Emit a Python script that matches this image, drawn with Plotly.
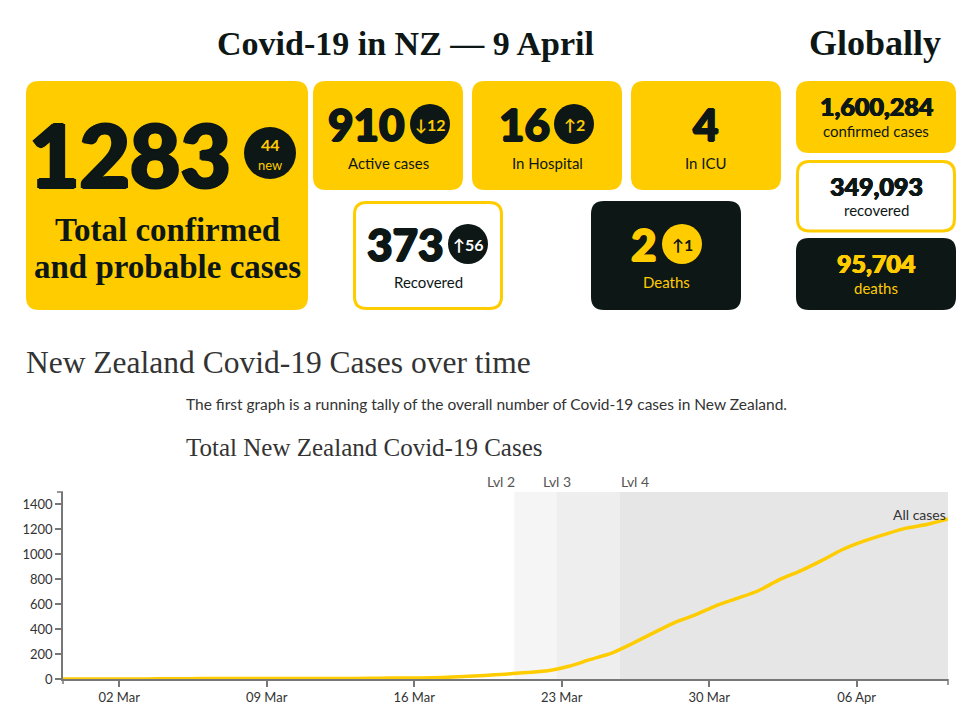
import plotly.graph_objects as go
import pandas as pd

# --- DATA ---
# cumulative confirmed + probable cases, one value per day from 28 Feb to 10 Apr
total_cases = [1, 1, 1, 1, 1, 2, 3, 4, 5, 5, 5, 5, 5, 5, 5,
               6, 8, 8, 12, 20, 28, 39, 52, 66, 102, 155, 205, 283, 368,
               451, 514, 589, 647, 708, 797, 868, 950, 1039, 1106, 1160,
               1210, 1239, 1283]
dates = pd.date_range("2020-02-28 08:00", periods=len(total_cases), freq="D")

level_labels = ["Lvl 2", "Lvl 3", "Lvl 4"]
level_starts = ["2020-03-20 18:00", "2020-03-22 18:00", "2020-03-25 18:00"]
level_fills = ["#f5f5f5", "#eeeeee", "#e6e6e6"]

total_now = 1283
new_today = 44
card_labels = ["Active cases", "In Hospital", "In ICU", "Recovered", "Deaths"]
card_values = [910, 16, 4, 373, 2]
card_changes = ["↓12", "↑2", "", "↑56", "↑1"]

global_values = ["1,600,284", "349,093", "95,704"]
global_labels = ["confirmed cases", "recovered", "deaths"]

# --- STYLE ---
YELLOW = "#FFCC00"
DARK = "#0d1716"
GREY_TXT = "#333333"
SLAB = "Liberation Serif, serif"
SERIF = "Liberation Serif, serif"
NUM = "Lato, Roboto, sans-serif"
SANS = "Lato, Open Sans, sans-serif"

# plot area in page pixels
PL, PR, PT, PB = 63, 948, 492, 679
W, H = 979, 711


def P(x, y):
    return (x - PL) / (PR - PL), (PB - y) / (PB - PT)


def rrect(x0, y0, x1, y1, r, fill, line=None, lw=0):
    pts = [("M", x0 + r, y0), ("L", x1 - r, y0), ("Q", x1, y0, x1, y0 + r),
           ("L", x1, y1 - r), ("Q", x1, y1, x1 - r, y1), ("L", x0 + r, y1),
           ("Q", x0, y1, x0, y1 - r), ("L", x0, y0 + r), ("Q", x0, y0, x0 + r, y0)]
    path = ""
    for p in pts:
        coords = []
        for i in range(1, len(p), 2):
            a, b = P(p[i], p[i + 1])
            coords.append(f"{a:.5f},{b:.5f}")
        path += p[0] + " " + " ".join(coords) + " "
    path += "Z"
    return dict(type="path", xref="paper", yref="paper", path=path,
                fillcolor=fill, line=dict(color=line or fill, width=lw),
                layer="above")


def circle(cx, cy, r, fill):
    x0, y0 = P(cx - r, cy + r)
    x1, y1 = P(cx + r, cy - r)
    return dict(type="circle", xref="paper", yref="paper", x0=x0, y0=y0,
                x1=x1, y1=y1, fillcolor=fill, line=dict(width=0), layer="above")


def seg(xa, ya, xb, yb, color="#777777", w=1.5):
    x0, y0 = P(xa, ya)
    x1, y1 = P(xb, yb)
    return dict(type="line", xref="paper", yref="paper", x0=x0, y0=y0,
                x1=x1, y1=y1, line=dict(color=color, width=w))


annotations = []


def txt(x, y, s, size, color, family=SANS, weight="normal", xanchor="center",
        heavy=0):
    a, b = P(x, y)
    font = dict(family=family, size=size, color=color, weight=weight)
    if heavy:
        # fake an extra-black weight by smearing the glyph a little
        h = heavy
        font["shadow"] = (f"{h}px 0 0 {color}, -{h}px 0 0 {color}, "
                          f"0 {h * 0.6}px 0 {color}, 0 -{h * 0.6}px 0 {color}")
    annotations.append(dict(x=a, y=b, xref="paper", yref="paper", text=s,
                            showarrow=False, xanchor=xanchor, yanchor="middle",
                            font=font))


fig = go.Figure()

# --- LINE CHART ---
fig.add_trace(go.Scatter(
    x=dates, y=total_cases, mode="lines",
    line=dict(color=YELLOW, width=3.5, shape="spline", smoothing=0.6),
    hoverinfo="x+y", showlegend=False))

shapes = []
ends = level_starts[1:] + [dates[-1]]
for s, e, c in zip(level_starts, ends, level_fills):
    shapes.append(dict(type="rect", xref="x", yref="paper", x0=s, x1=e,
                       y0=0, y1=1, fillcolor=c, line=dict(width=0), layer="below"))

# outer axis ticks (d3 style)
shapes += [seg(57, PT, PL, PT), seg(PL, PB, PL, PB + 5), seg(PR, PB, PR, PB + 6)]

# --- CARDS ---
shapes.append(rrect(26, 81, 308, 310, 13, YELLOW))
shapes.append(rrect(313, 81, 463, 190, 13, YELLOW))
shapes.append(rrect(472, 81, 622, 190, 13, YELLOW))
shapes.append(rrect(631, 81, 781, 190, 13, YELLOW))
shapes.append(rrect(354.5, 202.5, 501.5, 308.5, 12, "white", YELLOW, 3))
shapes.append(rrect(591, 201, 741, 310, 13, DARK))
shapes.append(rrect(796, 81, 956, 153, 13, YELLOW))
shapes.append(rrect(797.5, 161.5, 954.5, 231, 12, "white", YELLOW, 3))
shapes.append(rrect(796, 238, 956, 310, 13, DARK))

# badges
shapes.append(circle(270, 153, 26, DARK))
shapes.append(circle(430, 124, 20, DARK))
shapes.append(circle(574, 124, 20, DARK))
shapes.append(circle(468, 244, 20, DARK))
shapes.append(circle(682, 244, 20, YELLOW))

# headings
txt(405, 43, "<b>Covid-19 in NZ — 9 April</b>", 34, DARK, SLAB)
txt(875, 43, "<b>Globally</b>", 36, DARK, SLAB)

# big total card
txt(130, 154, str(total_now), 87, DARK, NUM, 900, heavy=1.7)
txt(270, 144, f"<b>{new_today}</b>", 16, YELLOW, NUM, 900)
txt(270, 165, "new", 13, YELLOW, SANS)
txt(167, 230, "<b>Total confirmed</b>", 33, DARK, SLAB)
txt(167, 267, "<b>and probable cases</b>", 33, DARK, SLAB)

# NZ small cards: number x/y, badge x, label x/y, colours
card_pos = [(366, 124, 430, 388, 163, DARK, YELLOW),
            (524, 124, 574, 547, 163, DARK, YELLOW),
            (706, 124, None, 706, 163, DARK, YELLOW),
            (405, 244, 468, 428, 282, DARK, "white"),
            (644, 244, 682, 666, 282, YELLOW, DARK)]
for (nx, ny, bx, lx, ly, col, bcol), v, ch, lab in zip(card_pos, card_values,
                                                       card_changes, card_labels):
    txt(nx, ny, str(v), 44, col, NUM, 900, heavy=1)
    if bx is not None:
        txt(bx, ny, f"<b>{ch}</b>", 16, bcol, NUM, 900)
    txt(lx, ly, lab, 15, col if col == YELLOW else DARK, SANS)

# global column
g_num_y = [106, 186, 263]
g_lab_y = [131, 210, 288]
g_cols = [DARK, DARK, YELLOW]
for v, lab, ny, ly, c in zip(global_values, global_labels, g_num_y, g_lab_y, g_cols):
    txt(876, ny, v, 25, c, NUM, 900, heavy=0.6)
    txt(876, ly, lab, 15, c, SANS)

# section texts
txt(24, 362, "New Zealand Covid-19 Cases over time", 31.5, GREY_TXT, SERIF, xanchor="left")
txt(184, 404, "The first graph is a running tally of the overall number of Covid-19 cases in New Zealand.",
    15.5, GREY_TXT, SANS, xanchor="left")
txt(184, 447, "Total New Zealand Covid-19 Cases", 25, GREY_TXT, SERIF, xanchor="left")

# level labels and series label
lvl_x = [501, 557, 635]
for lx, lab in zip(lvl_x, level_labels):
    txt(lx, 481, lab, 14, "#555555", SANS)
txt(948, 514, "All cases", 14, GREY_TXT, SANS, xanchor="right")

fig.update_layout(
    width=W, height=H,
    margin=dict(l=PL, r=W - PR, t=PT, b=H - PB, pad=0),
    paper_bgcolor="white", plot_bgcolor="white",
    shapes=shapes, annotations=annotations,
    xaxis=dict(range=[dates[0], dates[-1]], showgrid=False, zeroline=False,
               automargin=False,
               showline=True, linecolor="#777777", linewidth=1.5,
               ticks="outside", ticklen=6, tickcolor="#777777", tickwidth=1.5,
               tick0="2020-03-02", dtick=7 * 86400000, tickformat="%d %b",
               tickfont=dict(family=SANS, size=13, color=GREY_TXT)),
    yaxis=dict(range=[0, 1500], showgrid=False, zeroline=False,
               automargin=False,
               showline=True, linecolor="#777777", linewidth=1.5,
               ticks="outside", ticklen=6, tickcolor="#777777", tickwidth=1.5,
               dtick=200, tickfont=dict(family=SANS, size=13, color=GREY_TXT)),
)

fig.write_html("out.html", config={"displayModeBar": False},
               post_script="document.body.style.margin='0';document.body.style.overflow='hidden';")
